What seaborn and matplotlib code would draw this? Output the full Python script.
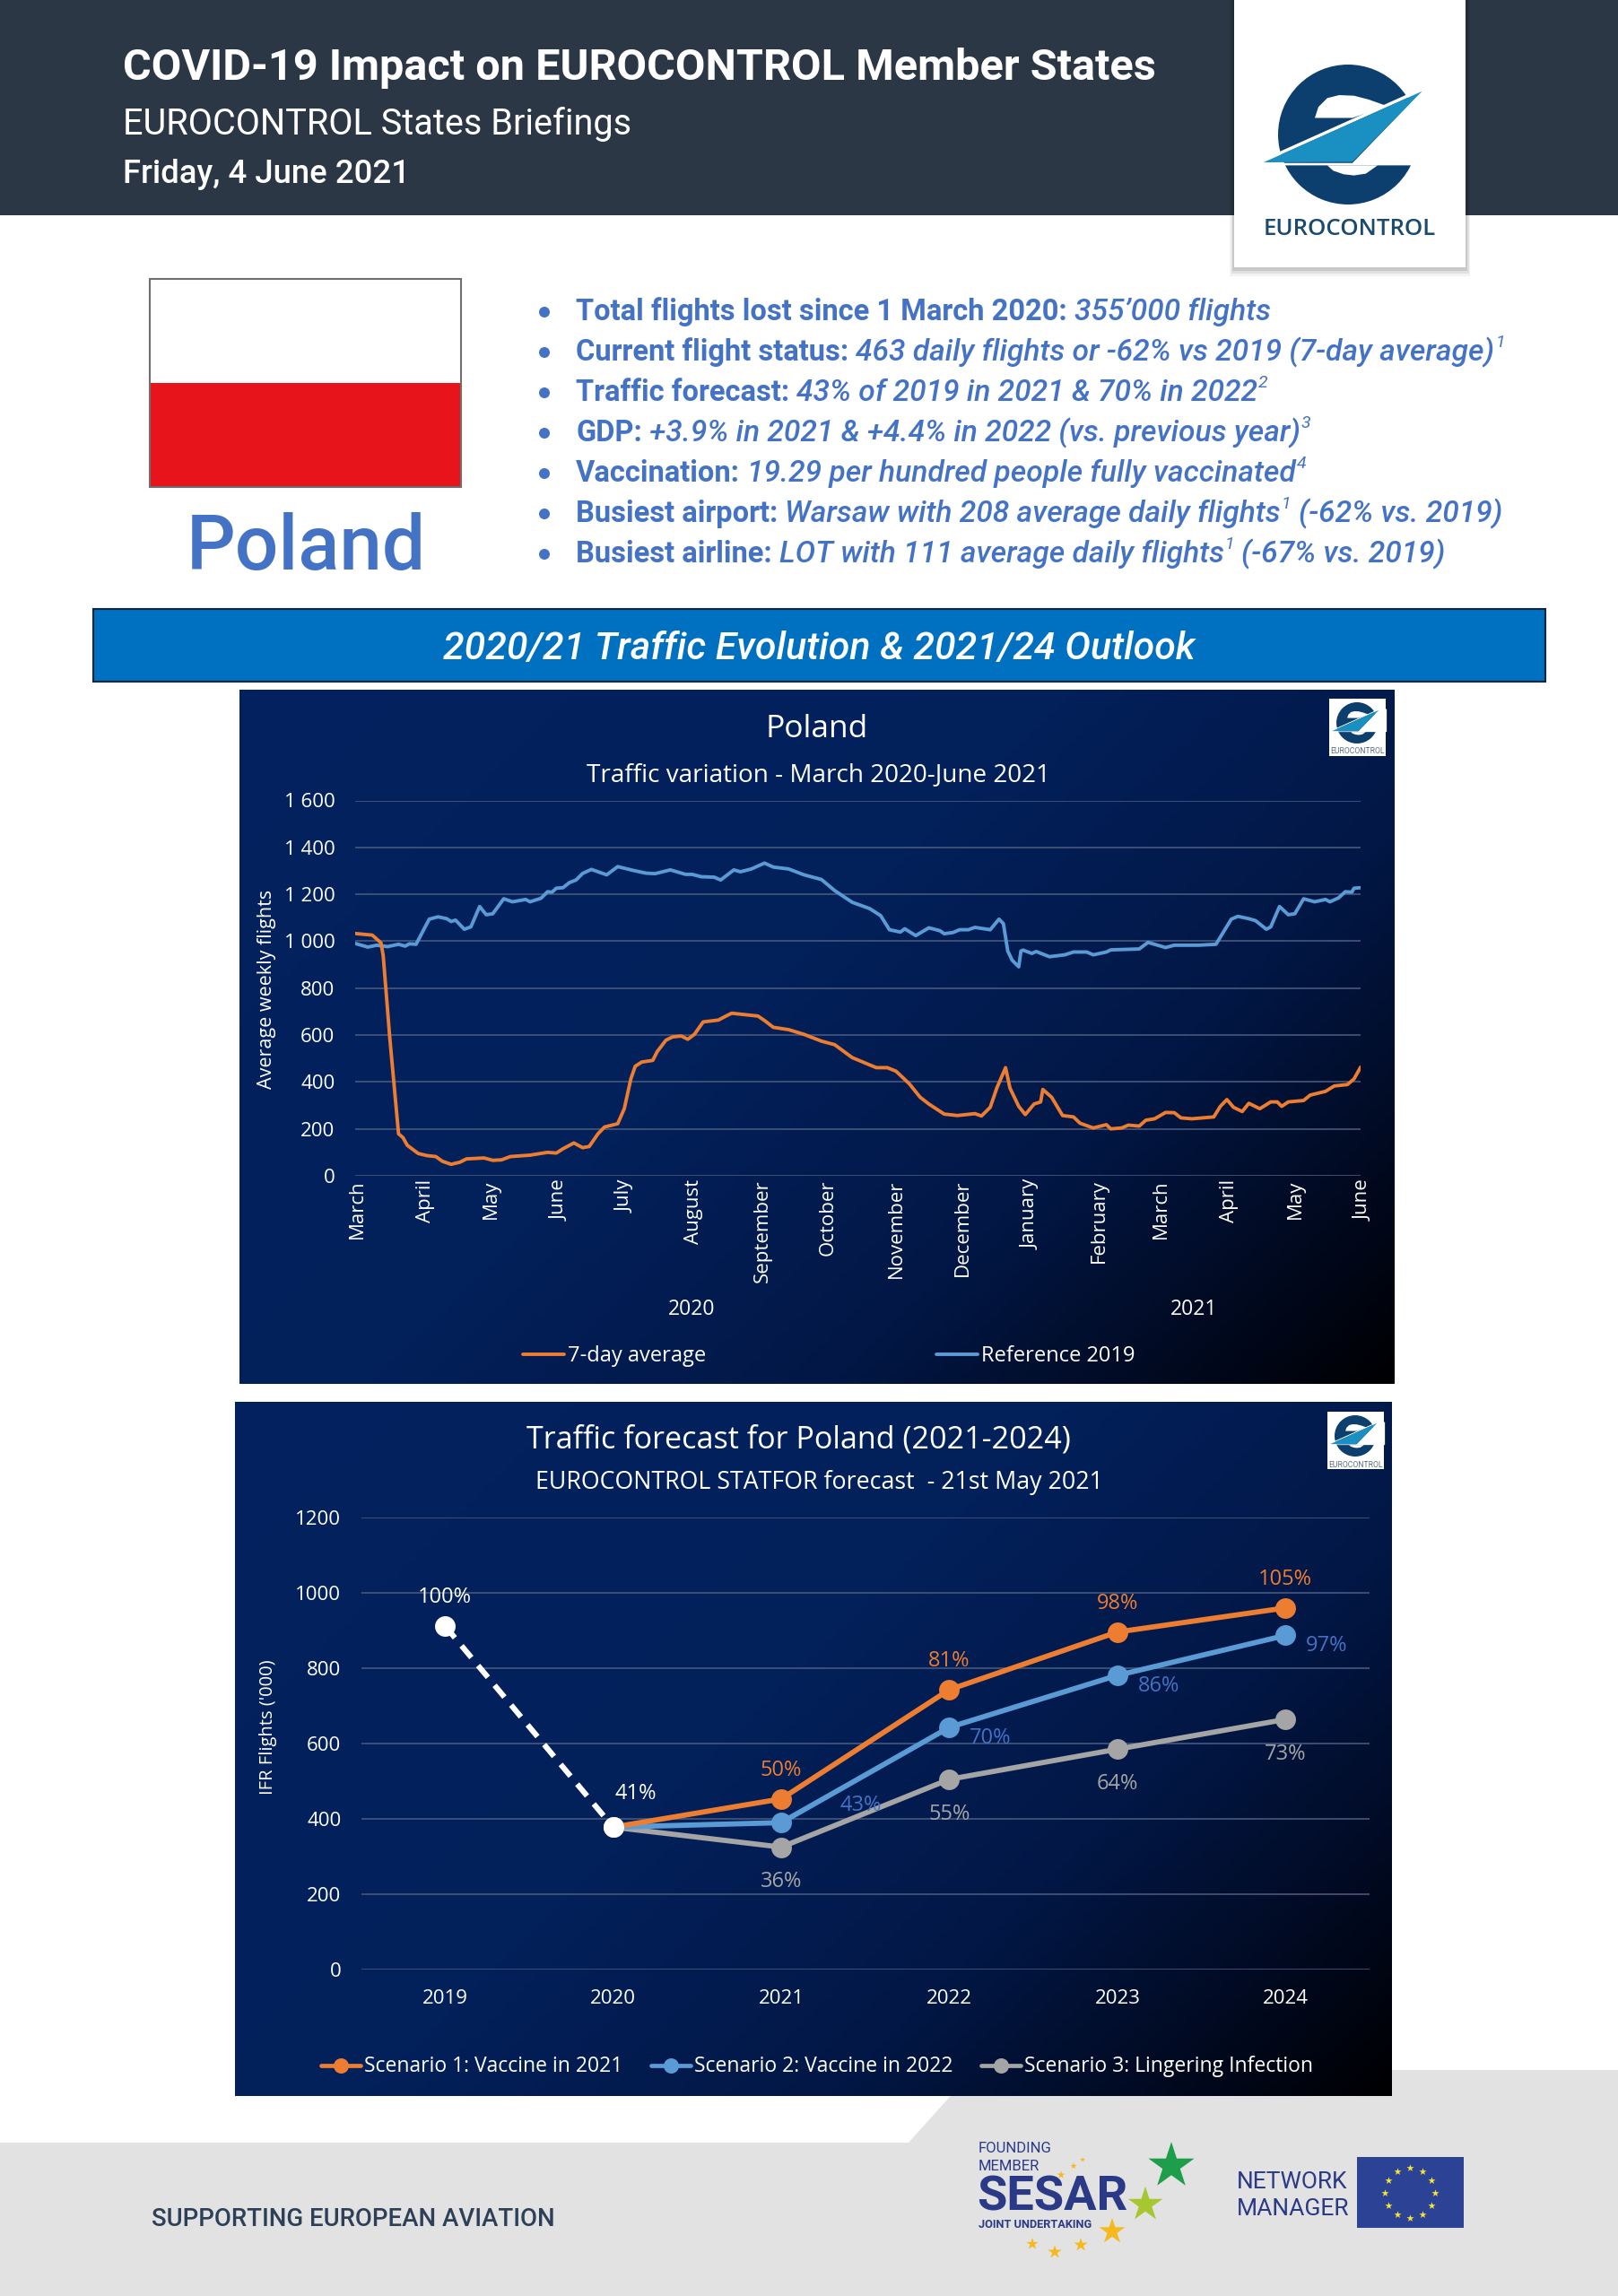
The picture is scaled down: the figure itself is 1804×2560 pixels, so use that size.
#COVID-19 briefing sheet for Poland, EUROCONTROL style

#step 1 import required libraries
import numpy as np
import pandas as pd
import matplotlib
matplotlib.use("Agg")
import matplotlib.pyplot as plt
import seaborn as sns
from matplotlib.colors import LinearSegmentedColormap
from matplotlib.patches import Circle, Polygon, Rectangle
from matplotlib.transforms import ScaledTranslation

#step 2 chart values
# x is days since 1 March 2020
avg_days = [0, 8, 12, 13, 16, 20, 22, 24, 29, 33, 37, 40, 44, 48, 51, 59, 63, 67, 71, 80, 88, 92, 95, 100, 104, 107,
            111, 114, 120, 123, 126, 128, 131, 136, 138, 142, 145, 149, 152, 155, 159, 166, 169, 172, 184, 187, 191,
            198, 205, 213, 219, 227, 238, 243, 247, 253, 258, 262, 269, 275, 283, 286, 290, 293, 297, 299, 303, 306,
            310, 313, 314, 318, 323, 328, 331, 337, 343, 345, 350, 353, 358, 361, 365, 370, 374, 377, 382, 392, 395,
            398, 401, 405, 408, 413, 418, 421, 423, 426, 433, 436, 443, 447, 453, 456, 459]
avg_values = [1033, 1026, 993, 938, 588, 179, 163, 130, 95, 86, 82, 62, 49, 58, 72, 76, 66, 68, 82, 88, 100, 97, 115,
              140, 120, 125, 179, 208, 222, 286, 413, 467, 485, 492, 529, 578, 592, 596, 582, 603, 656, 664, 679, 693,
              681, 662, 633, 623, 603, 574, 559, 504, 461, 461, 446, 393, 335, 306, 263, 257, 265, 255, 292, 374, 461,
              374, 296, 261, 306, 315, 368, 335, 257, 251, 224, 204, 218, 200, 204, 216, 212, 237, 243, 270, 269, 247,
              243, 251, 296, 325, 292, 274, 309, 286, 315, 315, 296, 315, 321, 344, 360, 383, 389, 413, 463]
ref_days = [0, 6, 10, 15, 20, 23, 25, 28, 34, 38, 42, 44, 46, 50, 53, 57, 60, 63, 68, 72, 78, 80, 85, 88, 90, 92, 95,
            98, 101, 104, 108, 115, 120, 127, 133, 137, 144, 151, 154, 158, 164, 167, 173, 176, 181, 187, 191, 198,
            205, 213, 219, 227, 235, 240, 244, 249, 251, 256, 262, 267, 269, 273, 276, 280, 283, 290, 294, 296, 298,
            300, 303, 304, 305, 309, 311, 317, 324, 328, 334, 337, 343, 345, 358, 362, 370, 374, 385, 393, 400, 403,
            408, 411, 416, 418, 422, 426, 429, 433, 438, 443, 445, 449, 452, 455, 456, 459]
ref_values = [991, 975, 983, 977, 987, 979, 989, 987, 1094, 1104, 1096, 1084, 1090, 1051, 1061, 1148, 1113, 1117, 1181,
              1168, 1178, 1168, 1183, 1211, 1209, 1226, 1228, 1250, 1261, 1289, 1306, 1283, 1318, 1302, 1290, 1288,
              1304, 1285, 1285, 1275, 1273, 1261, 1304, 1296, 1308, 1333, 1316, 1308, 1283, 1263, 1216, 1166, 1139,
              1109, 1049, 1039, 1053, 1024, 1057, 1045, 1032, 1037, 1049, 1049, 1059, 1049, 1094, 1075, 958, 919, 891,
              958, 962, 948, 956, 934, 942, 954, 954, 942, 954, 963, 967, 995, 973, 983, 983, 987, 1094, 1106, 1096,
              1088, 1051, 1061, 1148, 1113, 1117, 1181, 1168, 1178, 1168, 1185, 1211, 1209, 1226, 1228]
month_days = [0, 31, 61, 92, 122, 153, 184, 214, 245, 275, 306, 337, 365, 396, 426, 457]
month_labels = ["March", "April", "May", "June", "July", "August", "September", "October", "November", "December",
                "January", "February", "March", "April", "May", "June"]
y_ticks_top = [0, 200, 400, 600, 800, 1000, 1200, 1400, 1600]
y_labels_top = ["0", "200", "400", "600", "800", "1 000", "1 200", "1 400", "1 600"]

years = ["2019", "2020", "2021", "2022", "2023", "2024"]
base_years = ["2019", "2020"]
base_values = [912, 378]
scenario_years = ["2020", "2021", "2022", "2023", "2024"]
scenario_1 = [378, 453, 743, 896, 960]
scenario_2 = [378, 390, 643, 781, 887]
scenario_3 = [378, 325, 505, 585, 664]
labels_1 = ["50%", "81%", "98%", "105%"]
labels_2 = ["43%", "70%", "86%", "97%"]
labels_3 = ["36%", "55%", "64%", "73%"]
y_ticks_bottom = [0, 200, 400, 600, 800, 1000, 1200]

bullets = [
    [("Total flights lost since 1 March 2020:", "b"), ("355\u2019000 flights", "i")],
    [("Current flight status:", "b"), ("463 daily flights or -62% vs 2019 (7-day average)", "i"), ("1", "s")],
    [("Traffic forecast:", "b"), ("43% of 2019 in 2021 & 70% in 2022", "i"), ("2", "s")],
    [("GDP:", "b"), ("+3.9% in 2021 & +4.4% in 2022 (vs. previous year)", "i"), ("3", "s")],
    [("Vaccination:", "b"), ("19.29 per hundred people fully vaccinated", "i"), ("4", "s")],
    [("Busiest airport:", "b"), ("Warsaw with 208 average daily flights", "i"), ("1", "s"), ("(-62% vs. 2019)", "i")],
    [("Busiest airline:", "b"), ("LOT with 111 average daily flights", "i"), ("1", "s"), ("(-67% vs. 2019)", "i")],
]

#colors
ORANGE = "#ed7d31"
BLUE = "#5b9bd5"
GREY = "#a5a5a5"
TEXT_BLUE = "#4472c4"
HEADER = "#2c3746"
FOOTER = "#e2e2e2"
LOGO_DARK = "#0d3f6e"
LOGO_LIGHT = "#1a8fc2"
SESAR_BLUE = "#2b3a86"
GRID = "#46587c"

#step 3 page setup, everything on the page is placed in pixels of the 1804x2560 sheet
W, H = 1804, 2560
sns.set_theme(style="white")
plt.rcParams["font.family"] = ["Roboto", "DejaVu Sans"]
fig = plt.figure(figsize=(W / 100, H / 100), dpi=100, facecolor="white")
bg = fig.add_axes([0, 0, 1, 1], zorder=0)
bg.set_axis_off()
renderer = fig.canvas.get_renderer()


def px_axes(left, top, right, bottom):
    # axes placed by page pixels
    ax = fig.add_axes([left / W, 1 - bottom / H, (right - left) / W, (bottom - top) / H], zorder=2)
    ax.patch.set_visible(False)
    sns.despine(ax=ax, left=True, bottom=True)
    return ax


def panel(left, top, right, bottom):
    # dark blue background going to black in the lower right corner
    cmap = LinearSegmentedColormap.from_list("panel", [(0, "#02225f"), (0.45, "#03205a"), (0.7, "#021745"),
                                                       (0.88, "#01091f"), (1, "#000002")])
    xx, yy = np.meshgrid(np.linspace(0, 1, 200), np.linspace(0, 1, 200))
    bg.imshow((xx * 0.62 + yy * 0.38), cmap=cmap, vmin=0, vmax=1, aspect="auto", zorder=2,
              extent=(left, right, bottom, top))


def draw_logo(cx, cy, r):
    # eurocontrol "e" with the wing, outline points measured in a 780 px crop
    def pts(points):
        return [(cx + (x - 380) / 236 * r, cy + (y - 328) / 236 * r) for x, y in points]

    z = 6
    bg.add_patch(Circle((cx, cy), r, fc=LOGO_DARK, ec="none", zorder=z))
    white = [
        [(90, 424), (395, 424), (640, 170), (720, 170), (720, 432), (90, 432)],
        [(268, 272), (280, 235), (310, 205), (350, 195), (400, 197), (450, 210), (512, 232), (395, 272)],
        [(310, 432), (330, 450), (365, 462), (400, 466), (440, 460), (480, 432)],
        [(95, 410), (630, 170), (630, 182), (95, 422)],
    ]
    for shape in white:
        bg.add_patch(Polygon(pts(shape), fc="white", ec="none", zorder=z + 1))
    bg.add_patch(Polygon(pts([(95, 422), (630, 182), (395, 420)]), fc=LOGO_LIGHT, ec="none", zorder=z + 2))


#step 4 header
bg.add_patch(Rectangle((0, 0), W, 240, fc=HEADER, ec="none", zorder=1))
for off, alpha in [(10, 0.05), (7, 0.07), (4, 0.1)]:
    bg.add_patch(Rectangle((1376 - off / 2, 0), 258 + off, 298 + off, fc="black", alpha=alpha, ec="none", zorder=3))
bg.add_patch(Rectangle((1376, 0), 258, 298, fc="white", ec="none", zorder=4))
draw_logo(1503, 150, 78)
bg.text(1505, 256, "EUROCONTROL", color="#1a4a6e", fontsize=18.6, fontweight="semibold", family=["Open Sans", "DejaVu Sans"],
        ha="center", va="center", zorder=6)
bg.text(137, 76, "COVID-19 Impact on EUROCONTROL Member States", color="white", fontsize=35, fontweight="bold",
        va="center", zorder=3)
bg.text(137, 138, "EUROCONTROL States Briefings", color="white", fontsize=28.5, va="center", zorder=3)
bg.text(137, 194, "Friday, 4 June 2021", color="white", fontsize=26.3, fontweight="medium", va="center", zorder=3)

#step 5 flag and the bullet list
bg.add_patch(Rectangle((167, 311), 347, 116, fc="white", ec="none", zorder=3))
bg.add_patch(Rectangle((167, 427), 347, 116, fc="#e8141c", ec="none", zorder=3))
bg.add_patch(Rectangle((167, 311), 347, 232, fc="none", ec="#6e6e6e", lw=1.5, zorder=4))
bg.text(341, 611, "Poland", color=TEXT_BLUE, fontsize=61.5, fontweight="medium", ha="center", va="center", zorder=3)

for i, runs in enumerate(bullets):
    baseline = 357 + 45 * i
    bg.add_patch(Circle((607, baseline - 9), 6, fc=TEXT_BLUE, ec="none", zorder=3))
    x = 642
    for j, (txt, kind) in enumerate(runs):
        if kind == "s":
            x += 1
            t = bg.text(x, baseline - 15, txt, color=TEXT_BLUE, fontsize=14, style="italic", va="baseline", zorder=3)
        else:
            t = bg.text(x, baseline, txt, color=TEXT_BLUE, fontsize=23.5 if kind == "b" else 24.2, va="baseline", zorder=3,
                        fontweight="bold" if kind == "b" else "medium", style="normal" if kind == "b" else "italic")
        t.set_clip_on(False)
        x += t.get_window_extent(renderer).width + (8 if j < len(runs) - 1 and runs[j + 1][1] != "s" else 0)

#step 6 blue banner
bg.add_patch(Rectangle((104, 679), 1619, 81, fc="#0070c0", ec="#10253f", lw=1.5, zorder=3))
bg.text(913, 723, "2020/21 Traffic Evolution & 2021/24 Outlook", color="white", fontsize=30.9, style="italic",
        fontweight="medium", ha="center", va="center", zorder=4)

#step 7 footer shape
bg.add_patch(Polygon([(0, 2389), (1013, 2389), (1086, 2308), (W, 2308), (W, H), (0, H)], fc=FOOTER, ec="none", zorder=1))
bg.text(169, 2474, "SUPPORTING EUROPEAN AVIATION", color="#2d4058", fontsize=19.9, fontweight="medium", va="center", zorder=3)

sesar_font = ["Roboto", "DejaVu Sans"]
bg.text(1091, 2396, "FOUNDING", color=SESAR_BLUE, fontsize=12, family=sesar_font, va="center", zorder=3)
bg.text(1091, 2415, "MEMBER", color=SESAR_BLUE, fontsize=12, family=sesar_font, va="center", zorder=3)
bg.text(1089, 2450, "SESAR", color=SESAR_BLUE, fontsize=39, fontweight="bold", family=sesar_font, va="center", zorder=3)
bg.text(1091, 2480, "JOINT UNDERTAKING", color=SESAR_BLUE, fontsize=9.2, fontweight="bold", family=sesar_font, va="center", zorder=3)
star_x = [1306, 1277, 1240, 1205, 1176, 1151, 1183, 1197, 1207]
star_y = [2415, 2458, 2488, 2503, 2511, 2502, 2425, 2415, 2408]
star_size = [1500, 850, 480, 130, 130, 100, 45, 30, 20]
star_col = ["#1e9e4a", "#a6c730", "#f6b91d", "#f6b91d", "#f6b91d", "#f6b91d", "#f6b91d", "#f6b91d", "#f6b91d"]
bg.scatter(star_x, star_y, s=star_size, c=star_col, marker="*", linewidths=0, zorder=3)

bg.text(1379, 2433, "NETWORK", color=SESAR_BLUE, fontsize=19, family=sesar_font, va="center", zorder=3)
bg.text(1379, 2463, "MANAGER", color=SESAR_BLUE, fontsize=19, family=sesar_font, va="center", zorder=3)
bg.add_patch(Rectangle((1513, 2405), 119, 79, fc="#2b4295", ec="none", zorder=3))
angles = np.deg2rad(np.arange(0, 360, 30))
bg.scatter(1572 + 28 * np.cos(angles), 2445 + 28 * np.sin(angles), s=38, c="#f5e53a", marker="*", linewidths=0, zorder=4)

#step 8 traffic variation chart
panel(267, 769, 1555, 1543)
bg.add_patch(Rectangle((1482, 779), 63, 64, fc="white", ec="none", zorder=5))
draw_logo(1513, 806, 23)
bg.text(1513.5, 838, "EUROCONTROL", color="#5a6e80", fontsize=6.2, ha="center", va="center", zorder=8)

chart_font = ["Open Sans", "DejaVu Sans"]
ax = px_axes(395.5, 892.5, 1517, 1311)
avg_df = pd.DataFrame({"day": avg_days, "flights": avg_values})
ref_df = pd.DataFrame({"day": ref_days, "flights": ref_values})
sns.lineplot(data=ref_df, x="day", y="flights", ax=ax, color=BLUE, linewidth=2.8, legend=False, zorder=3)
sns.lineplot(data=avg_df, x="day", y="flights", ax=ax, color=ORANGE, linewidth=2.8, legend=False, zorder=3)
ax.set_xlim(0, 459)
ax.set_ylim(0, 1600)
ax.set_yticks(y_ticks_top, y_labels_top, color="white", fontsize=16, family=chart_font)
ax.set_xticks([d + 1 for d in month_days], month_labels, rotation=90, color="white", fontsize=16, family=chart_font)
ax.tick_params(axis="both", length=0)
ax.tick_params(axis="y", pad=16)
ax.tick_params(axis="x", pad=3)
# the month labels drift a little to the right along the axis in the original
for i, lab in enumerate(ax.get_xticklabels()):
    lab.set_transform(lab.get_transform() + ScaledTranslation(i * 0.4 / 100, 0, fig.dpi_scale_trans))
ax.yaxis.grid(True, color=GRID, lw=1.2)
ax.xaxis.grid(False)
ax.set_axisbelow(True)
ax.set_xlabel("")
ax.set_ylabel("")

bg.text(911, 813, "Poland", color="white", fontsize=25.5, family=chart_font, ha="center", va="center", zorder=4)
bg.text(912, 864, "Traffic variation - March 2020-June 2021", color="white", fontsize=20.1, family=chart_font,
        ha="center", va="center", zorder=4)
bg.text(297, 1103, "Average weekly flights", color="white", fontsize=15.5, family=chart_font, rotation=90,
        ha="center", va="center", zorder=4)
bg.text(771, 1460, "2020", color="white", fontsize=16.5, family=chart_font, ha="center", va="center", zorder=4)
bg.text(1331, 1460, "2021", color="white", fontsize=16.5, family=chart_font, ha="center", va="center", zorder=4)
bg.plot([583, 629], [1510, 1510], color=ORANGE, lw=2.8, zorder=4)
bg.text(633, 1512, "7-day average", color="white", fontsize=17, family=chart_font, va="center", zorder=4)
bg.plot([1044, 1090], [1510, 1510], color=BLUE, lw=2.8, zorder=4)
bg.text(1094, 1512, "Reference 2019", color="white", fontsize=17, family=chart_font, va="center", zorder=4)

#step 9 traffic forecast chart
panel(262, 1563, 1552, 2337)
bg.add_patch(Rectangle((1480, 1574), 63, 64, fc="white", ec="none", zorder=5))
draw_logo(1511, 1601, 23)
bg.text(1511.5, 1633, "EUROCONTROL", color="#5a6e80", fontsize=6.2, ha="center", va="center", zorder=8)

ax2 = px_axes(402.5, 1692, 1527, 2196)
base_df = pd.DataFrame({"year": base_years, "flights": base_values})
s_df = pd.DataFrame({"year": scenario_years, "s1": scenario_1, "s2": scenario_2, "s3": scenario_3})
ax2.plot(years, [None] * len(years), alpha=0)  # keeps all six years on the axis in order
line_kw = dict(marker="o", markersize=16.5, markeredgewidth=0, linewidth=4.2, legend=False, zorder=4)
sns.lineplot(data=s_df, x="year", y="s3", ax=ax2, color=GREY, **line_kw)
sns.lineplot(data=s_df, x="year", y="s2", ax=ax2, color=BLUE, **line_kw)
sns.lineplot(data=s_df, x="year", y="s1", ax=ax2, color=ORANGE, **line_kw)
sns.lineplot(data=base_df, x="year", y="flights", ax=ax2, color="white", marker="o", markersize=16.5, markeredgewidth=0,
             linewidth=4.4, linestyle=(0, (2.8, 1.9)), legend=False, zorder=5)
ax2.set_xlim(-0.5, 5.5)
ax2.set_ylim(0, 1200)
ax2.set_yticks(y_ticks_bottom)
ax2.tick_params(axis="both", length=0, labelcolor="white", labelsize=16)
ax2.tick_params(axis="y", pad=16)
ax2.tick_params(axis="x", pad=16)
for lab in ax2.get_xticklabels() + ax2.get_yticklabels():
    lab.set_family(chart_font)
ax2.yaxis.grid(True, color=GRID, lw=1.2)
ax2.xaxis.grid(False)
ax2.set_axisbelow(True)
ax2.set_xlabel("")
ax2.set_ylabel("")

label_kw = dict(textcoords="offset pixels", ha="center", va="center", fontsize=17, family=chart_font, zorder=6)
ax2.annotate("100%", ("2019", base_values[0]), xytext=(0, 32), color="white", **label_kw)
ax2.annotate("41%", ("2020", base_values[1]), xytext=(25, 37), color="white", **label_kw)
for i, yr in enumerate(scenario_years[1:]):
    ax2.annotate(labels_1[i], (yr, scenario_1[i + 1]), xytext=(0, 32), color=ORANGE, **label_kw)
    ax2.annotate(labels_3[i], (yr, scenario_3[i + 1]), xytext=(0, -39), color=GREY, **label_kw)
    off = (89, 19) if i == 0 else (46, -12)
    ax2.annotate(labels_2[i], (yr, scenario_2[i + 1]), xytext=off, color=TEXT_BLUE, **label_kw)

bg.text(890, 1605, "Traffic forecast for Poland (2021-2024)", color="white", fontsize=24.6, family=chart_font,
        ha="center", va="center", zorder=4)
bg.text(913, 1653, "EUROCONTROL STATFOR forecast  - 21st May 2021", color="white", fontsize=19.3, family=chart_font,
        ha="center", va="center", zorder=4)
bg.text(299, 1926, "IFR Flights ('000)", color="white", fontsize=14.5, family=chart_font, rotation=90,
        ha="center", va="center", zorder=4)
legend_x = [358, 726, 1094]
legend_col = [ORANGE, BLUE, GREY]
legend_txt = ["Scenario 1: Vaccine in 2021", "Scenario 2: Vaccine in 2022", "Scenario 3: Lingering Infection"]
for lx, col, txt in zip(legend_x, legend_col, legend_txt):
    bg.plot([lx, lx + 44], [2303, 2303], color=col, lw=3.4, zorder=4)
    bg.scatter([lx + 22], [2303], s=150, color=col, linewidths=0, zorder=5)
    bg.text(lx + 48, 2304, txt, color="white", fontsize=16.5, family=chart_font, va="center", zorder=4)

bg.set_xlim(0, W)
bg.set_ylim(H, 0)

#step 10 save figure
fig.savefig("out.png", dpi=100, facecolor="white")
